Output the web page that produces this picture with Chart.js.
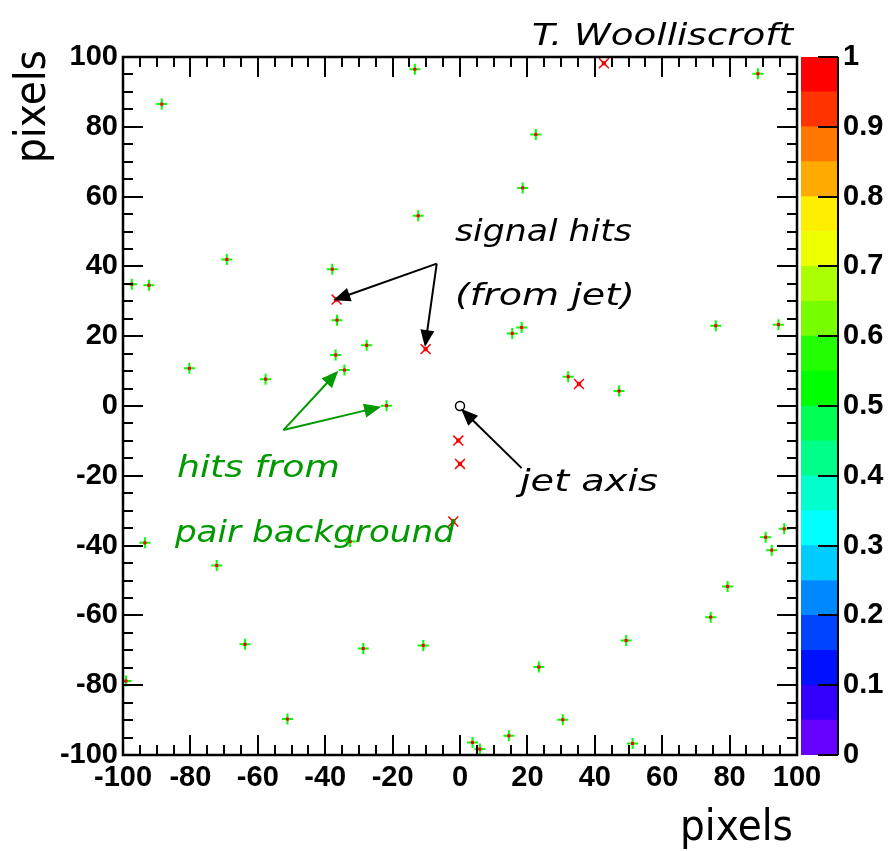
<!DOCTYPE html>
<html>
<head>
<meta charset="utf-8">
<title>Vertex detector hits</title>
<script src="https://cdn.jsdelivr.net/npm/chart.js@4.4.0/dist/chart.umd.min.js"></script>
<style>
  html, body { margin: 0; padding: 0; background: #fff; }
  #wrap { position: relative; width: 888px; height: 851px; }
  #hits { position: absolute; left: 0; top: 0; }
  #palette { position: absolute; left: 797px; top: 0; }
</style>
</head>
<body>
<div id="wrap">
  <canvas id="hits" width="888" height="851"></canvas>
  <canvas id="palette" width="91" height="851"></canvas>
</div>
<script>
// hits from pair background (pixel coordinates)
const bgX = [-13.4, -88.5, -12.4, -69.2, -37.9, -97.4, -92.3, -36.5, -27.7, -36.9, -34.3, -80.3, -57.7,
             88.4, 22.5, 18.6, 15.5, 18.3, 75.9, 94.5, 32.1, 47.2, -21.8, -93.5, -72.2, -63.8, -28.7,
             -10.9, -99.1, -51.2, -32.6, 96.2, 90.7, 92.5, 79.4, 74.4, 49.3, 23.4, 30.5, 14.5, 3.7, 5.9, 51.2];
const bgY = [96.5, 86.5, 54.5, 42.0, 39.2, 34.9, 34.6, 24.6, 17.4, 14.6, 10.3, 10.8, 7.7,
             95.2, 77.8, 62.5, 20.8, 22.5, 23.0, 23.3, 8.4, 4.3, 0.1, -39.2, -45.7, -68.3, -69.5,
             -68.6, -78.8, -89.7, -38.8, -35.2, -37.6, -41.3, -51.7, -60.5, -67.2, -74.8, -89.9, -94.5, -96.4, -98.3, -96.7];

// signal hits from the jet
const sigX = [42.7, -36.6, -10.2, 35.3, -0.5, 0.0, -2.0];
const sigY = [98.2, 30.5, 16.3, 6.3, -9.9, -16.6, -33.1];

const jetAxis = [0, 0];

// axis ticks
const axisTicks = [-100, -80, -60, -40, -20, 0, 20, 40, 60, 80, 100];
const minorStep = 5;

// colour scale: contour levels and palette
const levels = [0, 0.05, 0.1, 0.15, 0.2, 0.25, 0.3, 0.35, 0.4, 0.45, 0.5,
                0.55, 0.6, 0.65, 0.7, 0.75, 0.8, 0.85, 0.9, 0.95, 1];
const paletteColors = ['#6600ff', '#3300ff', '#0011ff', '#0044ff', '#0088ff', '#00ccff', '#00ffff', '#00ffcc',
                       '#00ff88', '#00ff55', '#00ff00', '#22ff00', '#77ff00', '#aaff00', '#eeff00', '#ffee00',
                       '#ffaa00', '#ff7700', '#ff3300', '#ff0000'];
const paletteTicks = [0, 0.1, 0.2, 0.3, 0.4, 0.5, 0.6, 0.7, 0.8, 0.9, 1];

const toPoints = (xs, ys) => xs.map((x, i) => ({ x: x, y: ys[i] }));
const bgPoints = toPoints(bgX, bgY);
const sigPoints = toPoints(sigX, sigY);

const tickFont = { family: 'Liberation Sans', size: 29, weight: 'bold' };
const handFont = '"DejaVu Sans"';

function drawArrow(ctx, x0, y0, x1, y1, color) {
    const ang = Math.atan2(y1 - y0, x1 - x0);
    const c = Math.cos(ang), s = Math.sin(ang);
    const len = 17, half = 7;
    ctx.save();
    ctx.strokeStyle = color;
    ctx.fillStyle = color;
    ctx.lineWidth = 2;
    ctx.beginPath();
    ctx.moveTo(x0, y0);
    ctx.lineTo(x1 - c * len * 0.8, y1 - s * len * 0.8);
    ctx.stroke();
    ctx.beginPath();
    ctx.moveTo(x1, y1);
    ctx.lineTo(x1 - len * c + half * s, y1 - len * s - half * c);
    ctx.lineTo(x1 - len * c - half * s, y1 - len * s + half * c);
    ctx.closePath();
    ctx.fill();
    ctx.restore();
}

// text stretched horizontally to a given width
function drawText(ctx, text, x, y, font, color, width, vertical) {
    ctx.save();
    ctx.font = font;
    ctx.fillStyle = color;
    ctx.textAlign = 'left';
    ctx.textBaseline = 'alphabetic';
    const w = ctx.measureText(text).width;
    ctx.translate(x, y);
    if (vertical) ctx.rotate(-Math.PI / 2);
    ctx.scale(width / w, 1);
    ctx.fillText(text, 0, 0);
    ctx.restore();
}

const framePlugin = {
    id: 'frame',
    afterDraw(chart) {
        const ctx = chart.ctx;
        const { left, right, top, bottom } = chart.chartArea;
        const xs = chart.scales.x, ys = chart.scales.y;
        ctx.save();
        ctx.strokeStyle = '#000';
        ctx.lineWidth = 2;
        ctx.beginPath();
        for (let v = -100; v <= 100; v += minorStep) {
            const len = axisTicks.includes(v) ? 20 : 10;
            const px = Math.round(xs.getPixelForValue(v));
            const py = Math.round(ys.getPixelForValue(v));
            ctx.moveTo(px, bottom); ctx.lineTo(px, bottom - len);
            ctx.moveTo(px, top); ctx.lineTo(px, top + len);
            ctx.moveTo(left, py); ctx.lineTo(left + len, py);
            ctx.moveTo(right, py); ctx.lineTo(right - len, py);
        }
        ctx.stroke();
        ctx.lineWidth = 2.5;
        ctx.strokeRect(left, top, right - left, bottom - top);
        ctx.restore();

        const X = v => xs.getPixelForValue(v);
        const Y = v => ys.getPixelForValue(v);

        // annotations
        drawArrow(ctx, X(-6.9), Y(40.8), X(-37.6), Y(30.3), '#000');
        drawArrow(ctx, X(-6.9), Y(40.8), X(-10.4), Y(16.9), '#000');
        drawArrow(ctx, X(18.3), Y(-17.8), X(0.3), Y(-0.8), '#000');
        drawArrow(ctx, X(-52.4), Y(-6.9), X(-36.1), Y(10.1), '#009900');
        drawArrow(ctx, X(-52.4), Y(-6.9), X(-23.4), Y(-0.2), '#009900');

        const hand = 'italic 31px ' + handFont;
        drawText(ctx, 'signal hits', X(-1.5), Y(47.4), hand, '#000', 177);
        drawText(ctx, '(from jet)', X(-1.5), Y(28.9), hand, '#000', 180);
        drawText(ctx, 'jet axis', X(17.8), Y(-24.3), hand, '#000', 138);
        drawText(ctx, 'hits from', X(-84.0), Y(-20.3), hand, '#009900', 163);
        drawText(ctx, 'pair background', X(-84.6), Y(-39.1), hand, '#009900', 280);

        // titles
        drawText(ctx, 'T. Woolliscroft', 532, 45, 'italic 31px ' + handFont, '#000', 261);
        drawText(ctx, 'pixels', 680, 840, '42px ' + handFont, '#000', 113);
        drawText(ctx, 'pixels', 45, 163, '42px ' + handFont, '#000', 113, true);
    }
};

new Chart(document.getElementById('hits'), {
    type: 'scatter',
    data: {
        datasets: [
            { label: 'signal cells', data: sigPoints, pointStyle: 'rect', pointRadius: 3, backgroundColor: '#ff0000', borderWidth: 0 },
            { label: 'cells', data: bgPoints, pointStyle: 'rect', pointRadius: 2.2, backgroundColor: '#ff0000', borderWidth: 0 },
            { label: 'signal hits', data: sigPoints, pointStyle: 'crossRot', pointRadius: 7, borderColor: '#ff0000', borderWidth: 1.5 },
            { label: 'pair background', data: bgPoints, pointStyle: 'cross', pointRadius: 5.5, borderColor: '#00ff00', borderWidth: 2 },
            { label: 'jet axis', data: [{ x: jetAxis[0], y: jetAxis[1] }], pointStyle: 'circle', pointRadius: 4.5,
              borderColor: '#000', borderWidth: 1.5, backgroundColor: 'rgba(0,0,0,0)' }
        ]
    },
    options: {
        responsive: false,
        animation: false,
        devicePixelRatio: 1,
        layout: { padding: { top: 57, right: 91, left: 0, bottom: 0 } },
        plugins: { legend: { display: false }, tooltip: { enabled: false } },
        scales: {
            x: {
                type: 'linear', min: -100, max: 100,
                afterBuildTicks: s => { s.ticks = axisTicks.map(v => ({ value: v })); },
                ticks: { font: tickFont, color: '#000', padding: 6, maxRotation: 0, autoSkip: false },
                grid: { display: false, drawTicks: false }, border: { display: false },
                afterFit: s => { s.height = 96; }
            },
            y: {
                type: 'linear', min: -100, max: 100,
                afterBuildTicks: s => { s.ticks = axisTicks.map(v => ({ value: v })); },
                ticks: { font: tickFont, color: '#000', padding: 5, autoSkip: false },
                grid: { display: false, drawTicks: false }, border: { display: false },
                afterFit: s => { s.width = 123; }
            }
        }
    },
    plugins: [framePlugin]
});

const paletteAxisPlugin = {
    id: 'paletteAxis',
    afterDraw(chart) {
        const ctx = chart.ctx;
        const { right, top, bottom } = chart.chartArea;
        const ys = chart.scales.y;
        ctx.save();
        ctx.strokeStyle = '#000';
        ctx.lineWidth = 2;
        ctx.beginPath();
        ctx.moveTo(right, top);
        ctx.lineTo(right, bottom);
        paletteTicks.forEach(v => {
            const py = Math.round(ys.getPixelForValue(v));
            ctx.moveTo(right, py);
            ctx.lineTo(right - 20, py);
        });
        ctx.stroke();
        ctx.restore();
    }
};

new Chart(document.getElementById('palette'), {
    type: 'bar',
    data: {
        labels: [''],
        datasets: paletteColors.map((c, i) => ({
            data: [[levels[i], levels[i + 1]]],
            backgroundColor: c,
            borderWidth: 0,
            barPercentage: 1,
            categoryPercentage: 1,
            grouped: false
        }))
    },
    options: {
        responsive: false,
        animation: false,
        devicePixelRatio: 1,
        layout: { padding: { top: 57, bottom: 96, left: 4, right: 0 } },
        plugins: { legend: { display: false }, tooltip: { enabled: false } },
        scales: {
            x: { display: false },
            y: {
                position: 'right', min: 0, max: 1,
                afterBuildTicks: s => { s.ticks = paletteTicks.map(v => ({ value: v })); },
                ticks: { font: tickFont, color: '#000', padding: 5, callback: v => String(Number(v.toFixed(1))) },
                grid: { display: false, drawTicks: false }, border: { display: false },
                afterFit: s => { s.width = 50; }
            }
        }
    },
    plugins: [paletteAxisPlugin]
});
</script>
</body>
</html>
